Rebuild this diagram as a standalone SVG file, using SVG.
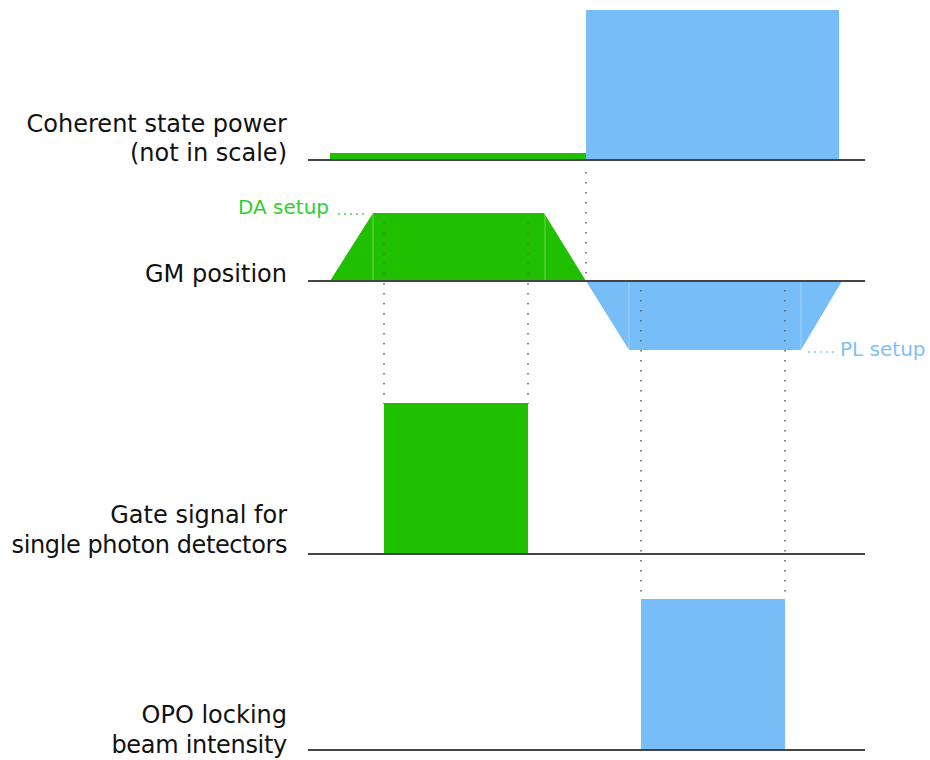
<svg xmlns="http://www.w3.org/2000/svg" width="930" height="760" viewBox="0 0 930 760">
<style>
.lbl{font-family:"DejaVu Sans","Open Sans",sans-serif;font-size:24px;fill:#111;text-anchor:end}
.base{stroke:#444;stroke-width:2;fill:none}
.dot{stroke:#666;stroke-width:1.6;fill:none;stroke-dasharray:1.6 8.4}
.g{fill:#20bf00}
.b{fill:#77bdf7}
.edge{stroke:#ffffff;stroke-opacity:0.35;stroke-width:1}
.tg{font-family:"DejaVu Sans","Open Sans",sans-serif;font-size:20px;fill:#33cc33}
.tb{font-family:"DejaVu Sans","Open Sans",sans-serif;font-size:20px;fill:#7cc3f8}
</style>
<rect width="930" height="760" fill="#fff"/>

<g id="coherent">
<rect class="g" x="330" y="153" width="256" height="7"/>
<rect class="b" x="586" y="10" width="253" height="150"/>
<line class="base" x1="308" y1="160" x2="865" y2="160"/>
<text class="lbl" x="287" y="132">Coherent state power</text>
<text class="lbl" x="287" y="161">(not in scale)</text>
</g>

<g id="gm">
<polygon class="g" points="330,281 373,213 544,213 586,281"/>
<line class="edge" x1="373" y1="213" x2="373" y2="281"/>
<line class="edge" x1="545" y1="213" x2="545" y2="281"/>
<polygon class="b" points="586,281 842,281 801,350 629,350"/>
<line class="edge" x1="629" y1="281" x2="629" y2="350"/>
<line class="edge" x1="801" y1="281" x2="801" y2="350"/>
<line class="base" x1="308" y1="281" x2="865" y2="281"/>
<text class="lbl" x="287" y="282">GM position</text>
<text class="tg" x="238" y="214">DA setup</text>
<line class="dot" x1="338" y1="214" x2="364" y2="214" style="stroke:#33cc33;stroke-dasharray:1.8 4.2"/>
<line class="dot" x1="808" y1="352" x2="834" y2="352" style="stroke:#7cc3f8;stroke-dasharray:1.8 4.2"/>
<text class="tb" x="840" y="356">PL setup</text>
</g>

<g id="gate">
<rect class="g" x="384" y="403" width="144" height="151"/>
<line class="base" x1="308" y1="554" x2="865" y2="554"/>
<text class="lbl" x="287" y="523">Gate signal for</text>
<text class="lbl" x="287" y="553" style="letter-spacing:-0.4px">single photon detectors</text>
</g>

<g id="opo">
<rect class="b" x="641" y="599" width="144" height="151"/>
<line class="base" x1="308" y1="750" x2="865" y2="750"/>
<text class="lbl" x="287" y="723">OPO locking</text>
<text class="lbl" x="287" y="753" style="letter-spacing:-0.3px">beam intensity</text>
</g>

<g id="connectors">
<line class="dot" x1="586" y1="172" x2="586" y2="281"/>
<line class="dot" x1="384" y1="223" x2="384" y2="404"/>
<line class="dot" x1="528" y1="223" x2="528" y2="404"/>
<line class="dot" x1="641" y1="290" x2="641" y2="600"/>
<line class="dot" x1="785" y1="290" x2="785" y2="600"/>
</g>
</svg>
